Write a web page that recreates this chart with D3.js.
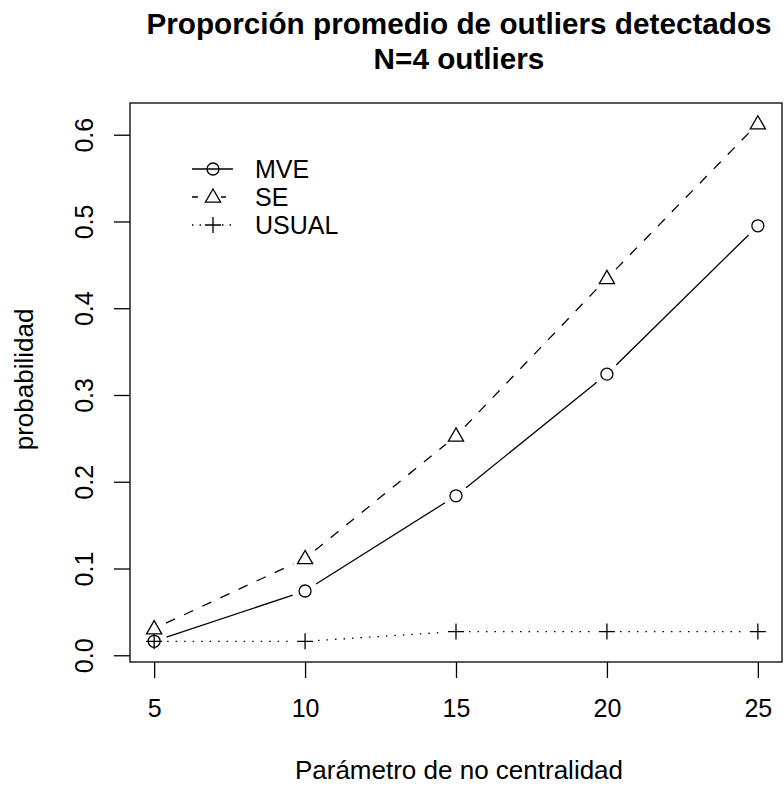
<!DOCTYPE html>
<html>
<head>
<meta charset="utf-8">
<script src="https://cdn.jsdelivr.net/npm/d3@7"></script>
<style>
  body { margin: 0; background: #fff; }
  text { font-family: "Liberation Sans", Arial, sans-serif; fill: #000; }
</style>
</head>
<body>
<div id="chart"></div>
<script>
// valores
let xValues = [5, 10, 15, 20, 25];
let mve = [0.0161, 0.0741, 0.1838, 0.3240, 0.4950];
let se = [0.0307, 0.1116, 0.2528, 0.4344, 0.6127];
let usual = [0.0161, 0.0161, 0.0273, 0.0273, 0.0273];
let xTicks = [5, 10, 15, 20, 25];
let yTicks = [0.0, 0.1, 0.2, 0.3, 0.4, 0.5, 0.6];
let seriesNames = ["MVE", "SE", "USUAL"];

let width = 784, height = 789;
let box = { left: 130, right: 782, top: 103, bottom: 662 };
let fontSize = 25;

let svg = d3.select('#chart')
  .append('svg')
  .attr('width', width)
  .attr('height', height);

// R style 4% padding on both scales
let xr = d3.extent(xValues);
let xpad = (xr[1] - xr[0]) * 0.04;
let x = d3.scaleLinear()
  .domain([xr[0] - xpad, xr[1] + xpad])
  .range([box.left, box.right]);

let allY = mve.concat(se, usual);
let yr = d3.extent(allY);
let ypad = (yr[1] - yr[0]) * 0.04;
let y = d3.scaleLinear()
  .domain([yr[0] - ypad, yr[1] + ypad])
  .range([box.bottom, box.top]);

// box
svg.append('rect')
  .attr('x', box.left).attr('y', box.top)
  .attr('width', box.right - box.left)
  .attr('height', box.bottom - box.top)
  .attr('fill', 'none')
  .attr('stroke', '#000')
  .attr('stroke-width', 1.3);

// axes
let xAxis = svg.append('g')
  .attr('transform', `translate(0,${box.bottom})`)
  .call(d3.axisBottom(x).tickValues(xTicks).tickSize(16).tickFormat(d3.format('d')));
let yAxis = svg.append('g')
  .attr('transform', `translate(${box.left},0)`)
  .call(d3.axisLeft(y).tickValues(yTicks).tickSize(16).tickFormat(d3.format('.1f')));

[xAxis, yAxis].forEach(function (g) {
  g.select('.domain').remove();
  g.selectAll('line').attr('stroke', '#000').attr('stroke-width', 1.3);
  g.selectAll('text').attr('font-size', fontSize).attr('font-family', '"Liberation Sans", Arial, sans-serif');
});

xAxis.selectAll('.tick text').attr('y', 55).attr('dy', 0);

// rotated y tick labels like R las=0
yAxis.selectAll('.tick text')
  .attr('transform', 'rotate(-90)')
  .attr('x', 0)
  .attr('y', -37)
  .attr('dy', 0)
  .attr('text-anchor', 'middle');

// lines type="b": segments with gaps around the points
let gap = 13;
function segments(vals) {
  let segs = [];
  for (let i = 0; i < vals.length - 1; i++) {
    let x1 = x(xValues[i]), y1 = y(vals[i]);
    let x2 = x(xValues[i + 1]), y2 = y(vals[i + 1]);
    let len = Math.hypot(x2 - x1, y2 - y1);
    if (len <= 2 * gap) continue;
    let ux = (x2 - x1) / len, uy = (y2 - y1) / len;
    segs.push([x1 + ux * gap, y1 + uy * gap, x2 - ux * gap, y2 - uy * gap]);
  }
  return segs;
}

let series = [
  { name: seriesNames[0], vals: mve, dash: null, legDash: null, sym: 'circle' },
  { name: seriesNames[1], vals: se, dash: '10,10', legDash: '6,8', sym: 'triangle' },
  { name: seriesNames[2], vals: usual, dash: '1.5,7', legDash: '1.5,6', sym: 'plus' }
];

function drawSymbol(g, sym, cx, cy) {
  if (sym === 'circle') {
    g.append('circle').attr('cx', cx).attr('cy', cy).attr('r', 6)
      .attr('fill', 'none').attr('stroke', '#000').attr('stroke-width', 1.3);
  } else if (sym === 'triangle') {
    let s = 8;
    g.append('path')
      .attr('d', `M${cx},${cy - s} L${cx + s * 0.95},${cy + s * 0.65} L${cx - s * 0.95},${cy + s * 0.65} Z`)
      .attr('fill', 'none').attr('stroke', '#000').attr('stroke-width', 1.3);
  } else {
    let s = 8;
    g.append('path')
      .attr('d', `M${cx - s},${cy} L${cx + s},${cy} M${cx},${cy - s} L${cx},${cy + s}`)
      .attr('fill', 'none').attr('stroke', '#000').attr('stroke-width', 1.3);
  }
}

series.forEach(function (s) {
  let g = svg.append('g');
  g.selectAll('line')
    .data(segments(s.vals))
    .enter()
    .append('line')
    .attr('x1', d => d[0]).attr('y1', d => d[1])
    .attr('x2', d => d[2]).attr('y2', d => d[3])
    .attr('stroke', '#000')
    .attr('stroke-width', 1.3)
    .attr('stroke-dasharray', s.dash);
  s.vals.forEach(function (v, i) {
    drawSymbol(g, s.sym, x(xValues[i]), y(v));
  });
});

// legend
let legend = svg.append('g');
series.forEach(function (s, i) {
  let ly = 169 + i * 28;
  legend.append('line')
    .attr('x1', 192).attr('x2', 233)
    .attr('y1', ly).attr('y2', ly)
    .attr('stroke', '#000').attr('stroke-width', 1.3)
    .attr('stroke-dasharray', s.legDash);
  // clear the middle like R's legend does
  if (s.legDash) {
    legend.append('rect').attr('x', 205).attr('y', ly - 9).attr('width', 16).attr('height', 18).attr('fill', '#fff');
  }
  drawSymbol(legend, s.sym, 213, ly);
  legend.append('text')
    .attr('x', 255).attr('y', ly)
    .attr('dy', '0.35em')
    .attr('font-size', fontSize)
    .text(s.name);
});

// titles
let cx = (box.left + box.right) / 2;
svg.append('text')
  .attr('x', cx + 3).attr('y', 34)
  .attr('text-anchor', 'middle')
  .attr('font-size', 29.7).attr('font-weight', 'bold')
  .text('Proporción promedio de outliers detectados');
svg.append('text')
  .attr('x', cx + 3).attr('y', 69)
  .attr('text-anchor', 'middle')
  .attr('font-size', 29.7).attr('font-weight', 'bold')
  .text('N=4 outliers');

svg.append('text')
  .attr('x', cx + 3).attr('y', 779)
  .attr('text-anchor', 'middle')
  .attr('font-size', 26)
  .text('Parámetro de no centralidad');

svg.append('text')
  .attr('transform', `translate(33,${(box.top + box.bottom) / 2 - 3}) rotate(-90)`)
  .attr('text-anchor', 'middle')
  .attr('font-size', 26)
  .text('probabilidad');
</script>
</body>
</html>
